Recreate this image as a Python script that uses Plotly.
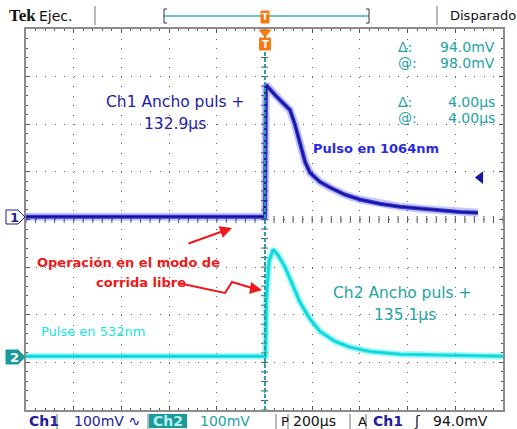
import plotly.graph_objects as go
import numpy as np

# ---------------- data (read from the scope screen) ----------------
# time in microseconds (trigger at 0), 200 us/div, 100 mV/div
ch1_t = [-1000, 0, 2, 6, 23, 45, 65, 90, 107, 128, 149, 170, 191, 233, 275, 338, 400, 484, 568, 694, 820, 895]
ch1_mv = [0, 0, 0, 277, 266, 255, 245, 232, 224, 193, 151, 115, 92, 73, 61, 46, 36, 27, 21, 15, 10, 8]
ch2_t = [-1000, 0, 4, 8, 19, 36, 57, 86, 115, 149, 191, 233, 296, 358, 442, 568, 778, 1000]
ch2_mv = [0, 0, 0, 119, 199, 224, 212, 187, 151, 113, 78, 52, 31, 19, 10, 4, 2, 0]
ch1_offset_div = 0.06
ch2_offset_div = -2.87
volts_per_div_mv = 100
time_per_div_us = 200
cursor_t_us = 2

meas_lines = [("Δ:", "94.0mV"), ("@:", "98.0mV"), ("Δ:", "4.00µs"), ("@:", "4.00µs")]

# ---------------- layout geometry (pixels) ----------------
W, H = 517, 429
L, R, T, B = 26, 503, 29, 410


def px(x):
    return (x - L) / (R - L)


def py(y):
    return (B - y) / (B - T)


def to_div(mv, off):
    return [v / volts_per_div_mv + off for v in mv]


BLUE = "#1c1ca6"
TEAL = "#1fa3a3"
CYAN = "#14e6e6"
RED = "#f01818"
ORANGE = "#f57a14"
FONT = "DejaVu Sans"

fig = go.Figure()

# center cross ticks (graticule decoration)
minor_x = np.arange(-1000, 1001, 40)
minor_y = np.arange(-4, 4.01, 0.2)
fig.add_trace(go.Scatter(x=minor_x, y=[0] * len(minor_x), mode="markers",
                         marker=dict(symbol="line-ns", size=5, line=dict(width=1, color="#555555")),
                         hoverinfo="skip", showlegend=False))
fig.add_trace(go.Scatter(x=[0] * len(minor_y), y=minor_y, mode="markers",
                         marker=dict(symbol="line-ew", size=5, line=dict(width=1, color="#555555")),
                         hoverinfo="skip", showlegend=False))

# Ch2 trace (cyan)
y2 = to_div(ch2_mv, ch2_offset_div)
for w, c in [(7, "rgba(40,235,235,0.35)"), (3.5, "#22e4e4"), (1.2, "#12cfd6")]:
    fig.add_trace(go.Scatter(x=ch2_t, y=y2, mode="lines", line=dict(color=c, width=w),
                             hoverinfo="skip", showlegend=False))

# Ch1 trace (blue)
y1 = to_div(ch1_mv, ch1_offset_div)
for w, c in [(8, "rgba(70,70,255,0.3)"), (4, "#3535d8"), (1.5, "#12128c")]:
    fig.add_trace(go.Scatter(x=ch1_t, y=y1, mode="lines", line=dict(color=c, width=w),
                             hoverinfo="skip", showlegend=False))

# trigger level marker on the right
fig.add_trace(go.Scatter(x=[905], y=[0.88], mode="markers",
                         marker=dict(symbol="triangle-left", size=11, color="#1818a0"),
                         hoverinfo="skip", showlegend=False))

shapes = []
# cursor line
shapes.append(dict(type="line", xref="x", yref="paper", x0=cursor_t_us, x1=cursor_t_us, y0=0, y1=1,
                   line=dict(color="#2a9fa0", width=2, dash="4px,2px")))
# top bar separators
for xx in [95, 437]:
    shapes.append(dict(type="line", xref="paper", yref="paper", x0=px(xx), x1=px(xx), y0=py(6), y1=py(25),
                       line=dict(color="#a0a0a0", width=1.5)))
# bottom bar separators / boxes
for xx in [57, 148, 276, 288, 350, 366]:
    shapes.append(dict(type="line", xref="paper", yref="paper", x0=px(xx), x1=px(xx), y0=py(414), y1=py(429),
                       line=dict(color="#a0a0a0", width=1.5)))
# record bracket
shapes.append(dict(type="line", xref="paper", yref="paper", x0=px(164), x1=px(369), y0=py(16), y1=py(16),
                   line=dict(color="#6cc6c6", width=2)))
for xx, d in [(164, 1), (369, -1)]:
    shapes.append(dict(type="path", xref="paper", yref="paper",
                       path=f"M {px(xx + 3*d)},{py(9)} L {px(xx)},{py(9)} L {px(xx)},{py(23)} L {px(xx + 3*d)},{py(23)}",
                       line=dict(color="#333333", width=1)))
# orange trigger-position marker in top bar
shapes.append(dict(type="rect", xref="paper", yref="paper", x0=px(261), x1=px(269), y0=py(23), y1=py(11),
                   fillcolor=ORANGE, line=dict(color=ORANGE, width=1)))
# orange trigger marker below top
shapes.append(dict(type="path", xref="paper", yref="paper",
                   path=f"M {px(259)},{py(30)} L {px(271)},{py(30)} L {px(265)},{py(37)} Z",
                   fillcolor=ORANGE, line=dict(color=ORANGE, width=1)))
shapes.append(dict(type="rect", xref="paper", yref="paper", x0=px(259.5), x1=px(270.5), y0=py(50), y1=py(38),
                   fillcolor=ORANGE, line=dict(color=ORANGE, width=1)))
# channel markers on the left
shapes.append(dict(type="path", xref="paper", yref="paper",
                   path=f"M {px(6)},{py(210)} L {px(18)},{py(210)} L {px(25)},{py(217)} L {px(18)},{py(224)} L {px(6)},{py(224)} Z",
                   fillcolor="white", line=dict(color="#202090", width=1)))
shapes.append(dict(type="path", xref="paper", yref="paper",
                   path=f"M {px(6)},{py(350)} L {px(18)},{py(350)} L {px(25)},{py(357)} L {px(18)},{py(364)} L {px(6)},{py(364)} Z",
                   fillcolor="#1a9a9a", line=dict(color="#1a9a9a", width=1)))
# Ch2 highlight box in status bar
shapes.append(dict(type="rect", xref="paper", yref="paper", x0=px(149), x1=px(187), y0=py(428), y1=py(414),
                   fillcolor="#1a9a9a", line=dict(width=0)))
# red zig-zag arrow
shapes.append(dict(type="path", xref="paper", yref="paper",
                   path=f"M {px(178)},{py(283)} L {px(225)},{py(293)} L {px(232)},{py(282)} L {px(252)},{py(288)}",
                   line=dict(color=RED, width=2)))

ann = []


def text(x, y, s, color, size, anchor="left", bold=False, family=FONT):
    ann.append(dict(xref="paper", yref="paper", x=px(x), y=py(y), text=(f"<b>{s}</b>" if bold else s),
                    showarrow=False, xanchor=anchor, yanchor="middle",
                    font=dict(family=family, size=size, color=color)))


# top bar
text(7, 16, "Tek", "#111111", 17, bold=True, family="Liberation Serif")
text(37, 16, "Ejec.", "#111111", 14)
text(448, 16, "Disparado", "#111111", 13)
text(265, 17, "T", "white", 9, anchor="center", bold=True)
text(265, 44, "T", "white", 10, anchor="center", bold=True)

# measurements
for i, (a, b) in enumerate(meas_lines):
    yy = [47, 63, 102, 118][i]
    text(396, yy, a, TEAL, 14)
    text(497, yy, b, TEAL, 14, anchor="right")

# annotations on screen
text(175, 102, "Ch1 Ancho puls +", BLUE, 15.5, anchor="center")
text(175, 124, "132.9µs", BLUE, 15.5, anchor="center")
text(376, 148, "Pulso en 1064nm", "#2a2ae0", 13, anchor="center", bold=True)
text(128, 262, "Operación en el modo de", RED, 13, anchor="center", bold=True)
text(141, 282, "corrida libre", RED, 13, anchor="center", bold=True)
text(402, 293, "Ch2 Ancho puls +", TEAL, 15.5, anchor="center")
text(405, 315, "135.1µs", TEAL, 15.5, anchor="center")
text(93, 331, "Pulse en 532nm", CYAN, 13, anchor="center")
text(14, 217, "1", "#202090", 13, anchor="center", bold=True)
text(14, 357, "2", "white", 13, anchor="center", bold=True)

# status bar
text(27, 421, "Ch1", "#20209a", 14, bold=True)
text(72, 421, "100mV ∿", "#20209a", 14)
text(168, 421, "Ch2", "#b8f0f0", 14, anchor="center", bold=True)
text(198, 421, "100mV", TEAL, 14)
text(279, 421, "P", "#111111", 13)
text(291, 421, "200µs", "#111111", 14)
text(356, 421, "A", "#111111", 13)
text(371, 421, "Ch1", "#20209a", 14, bold=True)
text(412, 421, "ʃ", "#111111", 14)
text(431, 421, "94.0mV", "#111111", 14)

# red straight arrow
ann.append(dict(xref="paper", yref="paper", x=px(232), y=py(228), ax=-45, ay=16, axref="pixel", ayref="pixel",
                text="", showarrow=True, arrowhead=2, arrowsize=1.2, arrowwidth=2, arrowcolor=RED))
ann.append(dict(xref="paper", yref="paper", x=px(262), y=py(290), ax=-12, ay=-2, axref="pixel", ayref="pixel",
                text="", showarrow=True, arrowhead=2, arrowsize=1.2, arrowwidth=2, arrowcolor=RED))

axis_common = dict(showticklabels=False, showline=True, linecolor="#8c8c8c", linewidth=2, mirror="ticks",
                   ticks="inside", ticklen=4, tickcolor="#555555", zeroline=False,
                   showgrid=True, gridcolor="#606060", gridwidth=1, griddash="1px,8.54px")

fig.update_layout(
    width=W, height=H, margin=dict(l=L, r=W - R, t=T, b=H - B),
    paper_bgcolor="white", plot_bgcolor="white",
    xaxis=dict(range=[-5 * time_per_div_us, 5 * time_per_div_us], dtick=time_per_div_us,
               minor=dict(dtick=time_per_div_us / 5, ticks="inside", ticklen=2, tickcolor="#555555", showgrid=False),
               **axis_common),
    yaxis=dict(range=[-4, 4], dtick=1,
               minor=dict(dtick=0.2, ticks="inside", ticklen=2, tickcolor="#555555", showgrid=False),
               **axis_common),
    shapes=shapes, annotations=ann, showlegend=False,
)

fig.write_html("out.html")
